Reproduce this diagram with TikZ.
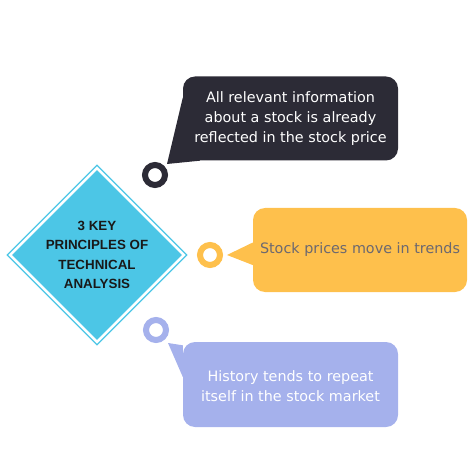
\documentclass[tikz,border=0pt]{standalone}
\usepackage{fontspec}
\setmainfont{DejaVu Sans}
\newfontfamily\titlefont{Liberation Sans}
\usetikzlibrary{shapes.geometric}
\usetikzlibrary{positioning}
\definecolor{skyblue}{HTML}{4CC6E6}
\definecolor{inkdark}{HTML}{2C2B36}
\definecolor{sunyellow}{HTML}{FEC04C}
\definecolor{lavender}{HTML}{A5B1EC}
\definecolor{slategray}{HTML}{6B6870}
\tikzset{
  bubble/.style={rounded corners=12bp, minimum width=215bp, minimum height=84bp,
    inner sep=0pt, align=center, font=\fontsize{14.4}{20.5}\selectfont},
  ring/.style={circle, draw=#1, line width=6bp, minimum size=20bp, inner sep=0pt, fill=white}}

\begin{document}
\begin{tikzpicture}[x=1bp,y=-1bp]
  \useasboundingbox (0,0) rectangle (474,474);
  % Draw the diamond with its outline
  \node[diamond, draw=skyblue, line width=1.2bp, minimum width=180bp, minimum height=180bp,
    inner sep=0pt] (frame) at (97,255) {};
  \node[diamond, fill=skyblue, minimum width=165bp, minimum height=165bp, inner sep=0pt,
    align=center, text=black!90, font=\titlefont\fontsize{13.4}{19.5}\selectfont\bfseries]
    (title) at (frame) {3 KEY\\PRINCIPLES OF\\TECHNICAL\\ANALYSIS};
  % Draw bubbles
  \node[bubble, fill=inkdark, text=white] (market) at (290.5,118.5)
    {All relevant information\\about a stock is already\\reflected in the stock price};
  \node[bubble, fill=sunyellow, text=slategray, minimum width=214bp] (trend) at (360,250)
    {Stock prices move in trends};
  \node[bubble, fill=lavender, text=white, minimum height=85bp] (history) at (290.5,384.5)
    {\\[-6bp]History tends to repeat\\itself in the stock market};
  % Draw rings
  \node[ring=inkdark] (marketring) at (155,175) {};
  \node[ring=sunyellow] (trendring) at (210,255) {};
  \node[ring=lavender] (historyring) at (156,330) {};
  % Draw tails from bubbles to rings
  \coordinate (markettip) at (167,164);
  \coordinate (trendtip) at (227,255);
  \coordinate (historytip) at (168,343);
  \fill[inkdark] (market.169) -- (markettip) -- (market.205) -- cycle;
  \fill[sunyellow] (trend.176) -- (trendtip) -- (trend.188) -- cycle;
  \fill[lavender] (history.160) -- (historytip) -- (history.176) -- cycle;
\end{tikzpicture}
\end{document}
